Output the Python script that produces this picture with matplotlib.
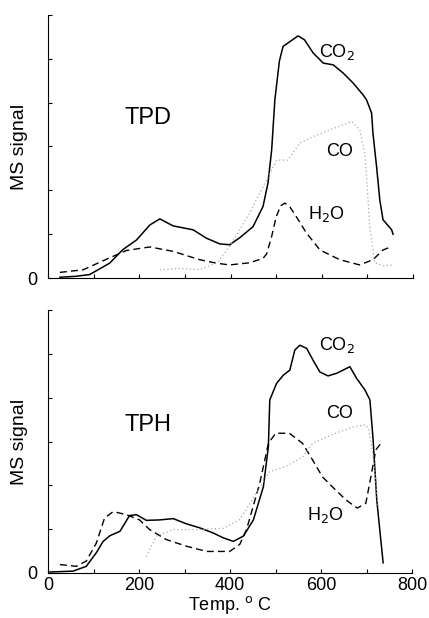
import matplotlib.pyplot as plt

plt.rcParams['font.family'] = ['Liberation Sans', 'DejaVu Sans']

# TPD panel
tpd_co2_t = [26, 60, 91, 135, 164, 194, 223, 245, 274, 318, 347, 376, 398, 420, 449, 471, 482, 490,
             497, 507, 515, 530, 548, 562, 581, 603, 625, 647, 669, 690, 698, 709, 712, 720, 727,
             734, 753, 756]
tpd_co2 = [0.02, 0.04, 0.08, 0.34, 0.65, 0.87, 1.21, 1.35, 1.19, 1.10, 0.91, 0.78, 0.76, 0.92, 1.17,
           1.63, 2.17, 2.92, 4.06, 4.95, 5.28, 5.39, 5.52, 5.43, 5.13, 4.90, 4.86, 4.67, 4.44, 4.18,
           4.06, 3.76, 3.30, 2.53, 1.78, 1.33, 1.10, 1.00]
tpd_h2o_t = [26, 77, 128, 172, 223, 274, 332, 369, 398, 442, 471, 479, 490, 500, 510, 519, 530, 544,
             566, 596, 639, 683, 712, 734, 753]
tpd_h2o = [0.13, 0.19, 0.43, 0.63, 0.71, 0.61, 0.42, 0.34, 0.30, 0.35, 0.45, 0.55, 0.95, 1.40, 1.65,
           1.71, 1.62, 1.40, 1.03, 0.64, 0.42, 0.30, 0.42, 0.64, 0.72]
tpd_co_t = [245, 290, 332, 370, 398, 442, 471, 501, 525, 552, 580, 617, 646, 665, 683, 694, 698, 705,
            716, 735, 756]
tpd_co = [0.19, 0.22, 0.19, 0.35, 0.72, 1.49, 2.08, 2.69, 2.69, 3.08, 3.22, 3.38, 3.49, 3.57, 3.38,
          2.85, 2.31, 1.17, 0.35, 0.28, 0.30]

# TPH panel
tph_co2_t = [4, 55, 84, 106, 121, 136, 158, 179, 194, 216, 245, 275, 304, 333, 363, 385, 407, 429,
             451, 473, 484, 487, 502, 517, 531, 542, 553, 568, 582, 597, 615, 634, 663, 678, 696,
             707, 714, 722, 736]
tph_co2 = [0.02, 0.04, 0.15, 0.46, 0.72, 0.85, 0.95, 1.31, 1.33, 1.20, 1.21, 1.24, 1.12, 1.03, 0.91,
           0.80, 0.72, 0.84, 1.21, 1.97, 2.89, 3.95, 4.33, 4.52, 4.63, 5.09, 5.20, 5.13, 4.86, 4.59,
           4.50, 4.56, 4.71, 4.44, 4.18, 3.95, 3.04, 1.67, 0.23]
tph_h2o_t = [26, 62, 84, 106, 124, 143, 172, 201, 223, 260, 304, 348, 399, 421, 436, 465, 484, 500,
             530, 559, 581, 603, 632, 654, 679, 698, 709, 720, 731]
tph_h2o = [0.19, 0.15, 0.27, 0.68, 1.25, 1.40, 1.33, 1.21, 0.99, 0.76, 0.61, 0.49, 0.49, 0.65, 0.99,
           2.05, 2.96, 3.19, 3.19, 2.96, 2.58, 2.19, 1.89, 1.67, 1.48, 1.59, 2.19, 2.81, 2.96]
tph_co_t = [216, 238, 275, 333, 385, 420, 435, 486, 522, 559, 581, 632, 668, 698, 705, 715, 725]
tph_co = [0.37, 0.84, 0.99, 0.99, 1.02, 1.21, 1.44, 2.31, 2.43, 2.65, 2.96, 3.19, 3.33, 3.38, 3.26,
          2.6, 1.5]

xticks = [0, 100, 200, 300, 400, 500, 600, 700, 800]
xlabels = ['0', '', '200', '', '400', '', '600', '', '800']

fig = plt.figure(figsize=(4.29, 6.18), dpi=100)
ax1 = fig.add_axes([0.112, 0.550, 0.851, 0.426])
ax2 = fig.add_axes([0.112, 0.073, 0.849, 0.425])

panels = [
    (ax1, 'TPD', tpd_co2_t, tpd_co2, tpd_h2o_t, tpd_h2o, tpd_co_t, tpd_co,
     [(337, 52), (340, 152), (326, 214)], (148, 118)),
    (ax2, 'TPH', tph_co2_t, tph_co2, tph_h2o_t, tph_h2o, tph_co_t, tph_co,
     [(337, 345), (340, 413), (325, 515)], (148, 425)),
]

for ax, name, ct, c2, ht, h2, ot, co, labpos, namepos in panels:
    ax.plot(ct, c2, color='black', lw=1.1, solid_joinstyle='round')
    ax.plot(ht, h2, color='black', lw=1.0, ls=(0, (5, 3)))
    ax.plot(ot, co, color='#aaaaaa', lw=0.9, ls=(0, (1, 2)))
    ax.set_xlim(0, 800)
    ax.set_ylim(0, 6)
    ax.spines['top'].set_visible(False)
    ax.spines['right'].set_visible(False)
    ax.set_yticks(range(7))
    ax.set_yticklabels(['0', '', '', '', '', '', ''], fontsize=13)
    ax.tick_params(axis='y', direction='in', length=3, pad=8)
    ax.tick_params(axis='x', direction='in', length=3)
    ax.set_ylabel('MS signal', fontsize=14)
    ax.yaxis.set_label_coords(-0.055, 0.5)
    ax.set_xticks(xticks)
    ax.patch.set_alpha(0)
    for lab, (px, py) in zip(['CO$_2$', 'CO', 'H$_2$O'], labpos):
        fig.text(px / 429, 1 - py / 618, lab, fontsize=13, ha='center', va='center')
    fig.text(namepos[0] / 429, 1 - namepos[1] / 618, name, fontsize=17, ha='center', va='center')

ax1.set_xticklabels([])
ax2.set_xticklabels(xlabels, fontsize=13)
ax2.tick_params(axis='x', pad=3)
ax2.set_xlabel('Temp. $^\\mathrm{o}$ C', fontsize=13, labelpad=0)

fig.savefig('out.png', dpi=100)
